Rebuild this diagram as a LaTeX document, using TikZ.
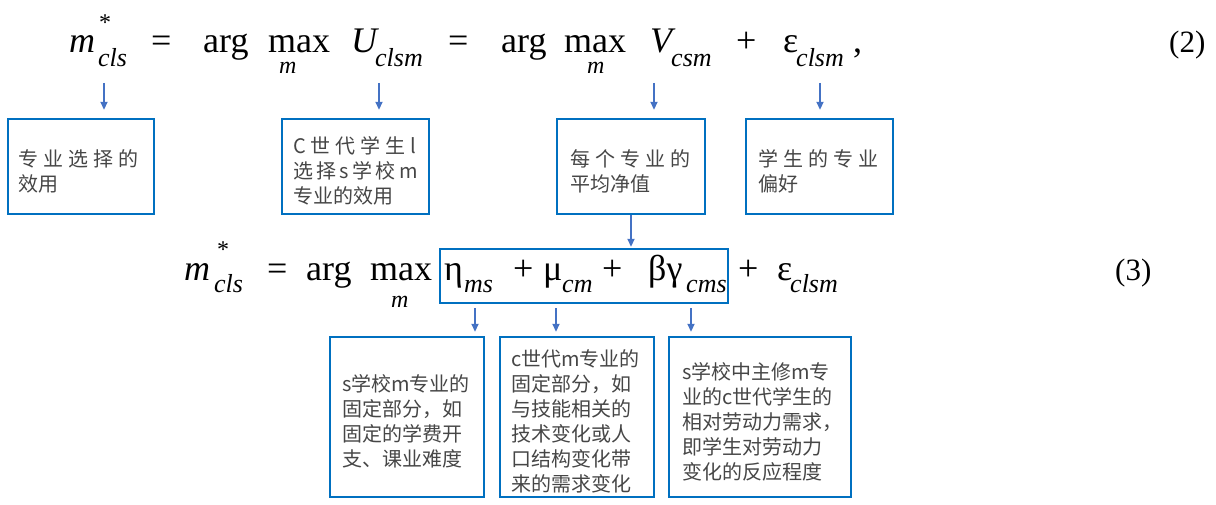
\documentclass[tikz,border=0pt]{standalone}
\usepackage{fontspec}
\setmainfont{Liberation Serif}
\newfontfamily\cjk{Noto Sans CJK SC}
\newfontfamily\cjkwide[LetterSpace=25]{Noto Sans CJK SC}
\newfontfamily\cjkmid[LetterSpace=17]{Noto Sans CJK SC}
\usepackage{tikz}
\usetikzlibrary{
  arrows.meta,
  positioning,
}
\definecolor{boxblue}{RGB}{0, 112, 192}
\definecolor{arrowblue}{RGB}{68, 114, 196}
\definecolor{notegray}{RGB}{70, 70, 70}
\tikzstyle{pointer} = [
  -{Triangle[width=7pt,length=8pt]},
  line width=1.8pt,
  arrowblue,
]
\tikzstyle{notebox} = [
  rectangle,
  draw=boxblue,
  line width=2.4pt,
  align=left,
  inner ysep=0pt,
  text=notegray,
  font=\cjk\fontsize{20}{25}\selectfont,
  execute at begin node={\rule{0pt}{26pt}},
]
\tikzstyle{sym} = [inner sep=0pt, anchor=base west, font=\fontsize{36}{40}\selectfont]
\tikzstyle{var} = [inner sep=0pt, anchor=base west, font=\fontsize{36}{40}\selectfont\itshape]
\tikzstyle{idx} = [inner sep=0pt, anchor=base west, font=\fontsize{26}{30}\selectfont\itshape]
\tikzstyle{star} = [inner sep=0pt, anchor=base west, font=\fontsize{24}{24}\selectfont]

\begin{document}
\begin{tikzpicture}[x=1pt, y=-1pt]

        \useasboundingbox (0,0) rectangle (1216,505);

        \node[var] (mA) at (69,53) {m};
        \node[star] (starA) at (99,31) {*};
        \node[idx] (clsA) at (98,67) {cls};
        \node[sym] (eqA) at (151,53) {=};
        \node[sym] (argA) at (203,53) {arg};
        \node[sym] (maxA) at (268,53) {max};
        \node[idx, font=\fontsize{24}{28}\selectfont\itshape] (underA) at (279,74) {m};
        \node[var] (uA) at (351,53) {U};
        \node[idx] (clsmA) at (375,67) {clsm};
        \node[sym] (eqB) at (448,53) {=};
        \node[sym] (argB) at (501,53) {arg};
        \node[sym] (maxB) at (564,53) {max};
        \node[idx, font=\fontsize{24}{28}\selectfont\itshape] (underB) at (587,74) {m};
        \node[var] (vA) at (650,53) {V};
        \node[idx] (csmA) at (671,67) {csm};
        \node[sym] (plusA) at (736,53) {+};
        \node[sym] (epsA) at (783,53) {ε};
        \node[idx] (clsmB) at (796,67) {clsm};
        \node[sym] (commaA) at (853,53) {,};
        \node[sym, font=\fontsize{31}{36}\selectfont] (tagA) at (1169,53) {(2)};

        \node[notebox, text width=124pt, inner xsep=11pt, minimum height=95pt] (utility) at (81,166.5)
          {{\cjkwide 专业选择的}\\效用};
        \node[notebox, text width=125pt, inner xsep=11pt, minimum height=95pt] (choice) at (355.5,166.5)
          {{\cjkwide C世代学生l}\\{\cjkmid 选择s学校m}\\专业的效用};
        \node[notebox, text width=122pt, inner xsep=13pt, minimum height=95pt] (netvalue) at (631,166.5)
          {{\cjkwide 每个专业的}\\平均净值};
        \node[notebox, text width=123pt, inner xsep=12pt, minimum height=95pt] (taste) at (819.5,166.5)
          {{\cjkwide 学生的专业}\\偏好};

        \coordinate (pA) at (104,83);
        \coordinate (pB) at (379,83);
        \coordinate (pC) at (654,83);
        \coordinate (pD) at (820,83);
        \draw[pointer, shorten >=8pt] (pA) -- (pA |- utility.north);
        \draw[pointer, shorten >=8pt] (pB) -- (pB |- choice.north);
        \draw[pointer, shorten >=8pt] (pC) -- (pC |- netvalue.north);
        \draw[pointer, shorten >=8pt] (pD) -- (pD |- taste.north);

        \node[var] (mB) at (184,280) {m};
        \node[star] (starB) at (217,258) {*};
        \node[idx] (clsB) at (214,293) {cls};
        \node[sym] (eqC) at (267,280) {=};
        \node[sym] (argC) at (306,280) {arg};
        \node[sym] (maxC) at (370,280) {max};
        \node[idx, font=\fontsize{24}{28}\selectfont\itshape] (underC) at (391,307) {m};
        \node[draw=boxblue, line width=2.4pt, minimum width=288pt, minimum height=54pt, inner sep=0pt] (core) at (584,276) {};
        \node[sym] (eta) at (444,280) {η};
        \node[idx] (msA) at (464,293) {ms};
        \node[sym] (plusB) at (513,280) {+};
        \node[sym] (mu) at (543,280) {μ};
        \node[idx] (cmA) at (562,293) {cm};
        \node[sym] (plusC) at (602,280) {+};
        \node[sym] (betagamma) at (648,280) {βγ};
        \node[idx] (cmsA) at (686,293) {cms};
        \node[sym] (plusD) at (738,280) {+};
        \node[sym] (epsB) at (777,280) {ε};
        \node[idx] (clsmC) at (790,293) {clsm};
        \node[sym, font=\fontsize{31}{36}\selectfont] (tagB) at (1115,280) {(3)};

        \draw[pointer, shorten >=1pt] (netvalue.south) -- (netvalue.south |- core.north);

        \node[notebox, text width=130pt, inner xsep=12pt, minimum height=160pt] (schoolfix) at (407,417)
          {s学校m专业的\\固定部分，如\\固定的学费开\\支、课业难度};
        \node[notebox, text width=132pt, inner xsep=11pt, minimum height=160pt] (cohortfix) at (577,417)
          {c世代m专业的\\固定部分，如\\与技能相关的\\技术变化或人\\口结构变化带\\来的需求变化};
        \node[notebox, text width=156pt, inner xsep=13pt, minimum height=160pt] (demand) at (760,417)
          {s学校中主修m专\\业的c世代学生的\\相对劳动力需求，\\即学生对劳动力\\变化的反应程度};

        \coordinate (qA) at (475,308);
        \coordinate (qB) at (556,308);
        \coordinate (qC) at (691,308);
        \draw[pointer, shorten >=4pt] (qA) -- (qA |- schoolfix.north);
        \draw[pointer, shorten >=4pt] (qB) -- (qB |- cohortfix.north);
        \draw[pointer, shorten >=4pt] (qC) -- (qC |- demand.north);

      \end{tikzpicture}
\end{document}
